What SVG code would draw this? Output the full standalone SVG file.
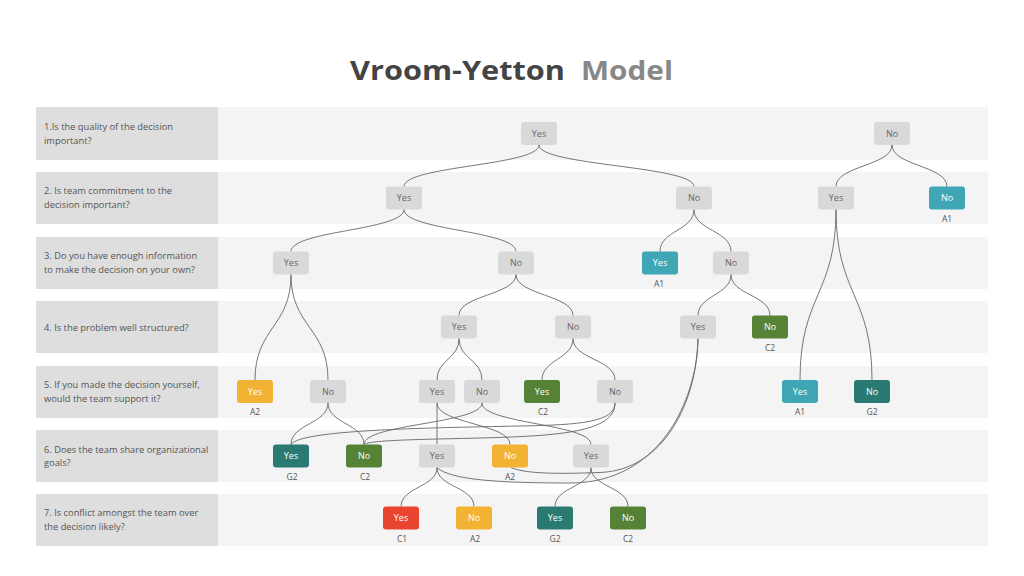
<svg xmlns="http://www.w3.org/2000/svg" width="1024" height="576" viewBox="0 0 1024 576">
<style>
.lab{fill:#dedede}
.band{fill:#f4f4f4}
.q{font-family:"Open Sans","Liberation Sans",sans-serif;font-size:9.3px;fill:#555}
.t{font-family:"Open Sans","Liberation Sans",sans-serif;font-size:9px;text-anchor:middle}
.g rect{fill:#d9d9d9}
.g text{fill:#666}
.c text.t{fill:#fff}
.teal rect{fill:#3fa6b6}
.dteal rect{fill:#2b7a72}
.green rect{fill:#558235}
.orange rect{fill:#f2b233}
.red rect{fill:#e8442f}
text.sub{font-family:"Open Sans","Liberation Sans",sans-serif;font-size:8.5px;fill:#555;text-anchor:middle}
#connectors path{fill:none;stroke:#666;stroke-width:0.9}
.title{font-family:"Open Sans","Liberation Sans",sans-serif;font-weight:bold;font-size:27px}
</style>
<rect width="1024" height="576" fill="#fff"/>
<g id="title">
<text class="title" x="350" y="80" fill="#444" textLength="215" lengthAdjust="spacingAndGlyphs">Vroom-Yetton</text>
<text class="title" x="581" y="80" fill="#888" textLength="92" lengthAdjust="spacingAndGlyphs">Model</text>
</g>
<g id="rows">
<rect class="lab" x="36" y="107" width="182" height="53"/><rect class="band" x="218" y="107" width="770" height="53"/>
<rect class="lab" x="36" y="172" width="182" height="52"/><rect class="band" x="218" y="172" width="770" height="52"/>
<rect class="lab" x="36" y="237" width="182" height="52"/><rect class="band" x="218" y="237" width="770" height="52"/>
<rect class="lab" x="36" y="301" width="182" height="52"/><rect class="band" x="218" y="301" width="770" height="52"/>
<rect class="lab" x="36" y="366" width="182" height="52"/><rect class="band" x="218" y="366" width="770" height="52"/>
<rect class="lab" x="36" y="430" width="182" height="52"/><rect class="band" x="218" y="430" width="770" height="52"/>
<rect class="lab" x="36" y="494" width="182" height="52"/><rect class="band" x="218" y="494" width="770" height="52"/>
<text class="q" x="44" y="130"><tspan x="44">1.Is the quality of the decision</tspan><tspan x="44" dy="13.5">important?</tspan></text>
<text class="q" x="44" y="194.3"><tspan x="44">2. Is team commitment to the</tspan><tspan x="44" dy="13.5">decision important?</tspan></text>
<text class="q" x="44" y="259.3"><tspan x="44">3. Do you have enough information</tspan><tspan x="44" dy="13.5">to make the decision on your own?</tspan></text>
<text class="q" x="44" y="330.5">4. Is the problem well structured?</text>
<text class="q" x="44" y="388.3"><tspan x="44">5. If you made the decision yourself,</tspan><tspan x="44" dy="13.5">would the team support it?</tspan></text>
<text class="q" x="44" y="452.8"><tspan x="44">6. Does the team share organizational</tspan><tspan x="44" dy="13.5">goals?</tspan></text>
<text class="q" x="44" y="516.3"><tspan x="44">7. Is conflict amongst the team over</tspan><tspan x="44" dy="13.5">the decision likely?</tspan></text>
</g>
<g id="connectors">
<path d="M539 145C539 165.75 404 165.75 404 186.5"/>
<path d="M539 145C539 165.75 694 165.75 694 186.5"/>
<path d="M892 145C892 165.75 836 165.75 836 186.5"/>
<path d="M892 145C892 165.75 947 165.75 947 186.5"/>
<path d="M404 209.5C404 230.5 291 230.5 291 251.5"/>
<path d="M404 209.5C404 230.5 516 230.5 516 251.5"/>
<path d="M694 209.5C694 230.5 660 230.5 660 251.5"/>
<path d="M694 209.5C694 230.5 731 230.5 731 251.5"/>
<path d="M836 209.5C836 294.75 800 294.75 800 380"/>
<path d="M836 209.5C836 294.75 872 294.75 872 380"/>
<path d="M291 274.5C291 327.25 255 327.25 255 380"/>
<path d="M291 274.5C291 327.25 328 327.25 328 380"/>
<path d="M516 274.5C516 295 459 295 459 315.5"/>
<path d="M516 274.5C516 295 573 295 573 315.5"/>
<path d="M731 274.5C731 295 698 295 698 315.5"/>
<path d="M731 274.5C731 295 770 295 770 315.5"/>
<path d="M459 338.5C459 359.25 437 359.25 437 380"/>
<path d="M459 338.5C459 359.25 482 359.25 482 380"/>
<path d="M573 338.5C573 359.25 542 359.25 542 380"/>
<path d="M573 338.5C573 359.25 615 359.25 615 380"/>
<path d="M328 403C328 423.75 291 423.75 291 444.5"/>
<path d="M328 403C328 423.75 364 423.75 364 444.5"/>
<path d="M437 403L437 444.5"/>
<path d="M437 403C437 423.75 510 423.75 510 444.5"/>
<path d="M482 403C482 423.75 364 423.75 364 444.5"/>
<path d="M482 403C482 423.75 591 423.75 591 444.5"/>
<path d="M615 403C615 422 580 425 520 426C420 428 300 430 291 444.5"/>
<path d="M615 403C615 432 560 436 480 438C420 439.5 370 440 364 444.5"/>
<path d="M437 467.5C437 487 401 487 401 506.5"/>
<path d="M437 467.5C437 487 474 487 474 506.5"/>
<path d="M591 467.5C591 487 555 487 555 506.5"/>
<path d="M591 467.5C591 487 628 487 628 506.5"/>
<path d="M698 338.5C697 400 660 483 570 483C500 483 450 480 437 467.5"/>
<path d="M698 338.5C697 400 665 470 600 472.5C560 474 525 474 511 467.5"/>
</g>
<g id="n1y" class="g"><rect x="521" y="122" width="36" height="23" rx="3"/><text class="t" x="539" y="136.7">Yes</text></g>
<g id="n1n" class="g"><rect x="874" y="122" width="36" height="23" rx="3"/><text class="t" x="892" y="136.7">No</text></g>
<g id="n2a" class="g"><rect x="386" y="186.5" width="36" height="23" rx="3"/><text class="t" x="404" y="201.2">Yes</text></g>
<g id="n2b" class="g"><rect x="676" y="186.5" width="36" height="23" rx="3"/><text class="t" x="694" y="201.2">No</text></g>
<g id="n2c" class="g"><rect x="818" y="186.5" width="36" height="23" rx="3"/><text class="t" x="836" y="201.2">Yes</text></g>
<g id="n2d" class="c teal"><rect x="929" y="186.5" width="36" height="23" rx="3"/><text class="t" x="947" y="201.2">No</text><text class="sub" x="947" y="221.5">A1</text></g>
<g id="n3a" class="g"><rect x="273" y="251.5" width="36" height="23" rx="3"/><text class="t" x="291" y="266.2">Yes</text></g>
<g id="n3b" class="g"><rect x="498" y="251.5" width="36" height="23" rx="3"/><text class="t" x="516" y="266.2">No</text></g>
<g id="n3c" class="c teal"><rect x="642" y="251.5" width="36" height="23" rx="3"/><text class="t" x="660" y="266.2">Yes</text><text class="sub" x="659" y="286.5">A1</text></g>
<g id="n3d" class="g"><rect x="713" y="251.5" width="36" height="23" rx="3"/><text class="t" x="731" y="266.2">No</text></g>
<g id="n4a" class="g"><rect x="441" y="315.5" width="36" height="23" rx="3"/><text class="t" x="459" y="330.2">Yes</text></g>
<g id="n4b" class="g"><rect x="555" y="315.5" width="36" height="23" rx="3"/><text class="t" x="573" y="330.2">No</text></g>
<g id="n4c" class="g"><rect x="680" y="315.5" width="36" height="23" rx="3"/><text class="t" x="698" y="330.2">Yes</text></g>
<g id="n4d" class="c green"><rect x="752" y="315.5" width="36" height="23" rx="3"/><text class="t" x="770" y="330.2">No</text><text class="sub" x="770" y="350.5">C2</text></g>
<g id="n5a" class="c orange"><rect x="237" y="380" width="36" height="23" rx="3"/><text class="t" x="255" y="394.7">Yes</text><text class="sub" x="255" y="415">A2</text></g>
<g id="n5b" class="g"><rect x="310" y="380" width="36" height="23" rx="3"/><text class="t" x="328" y="394.7">No</text></g>
<g id="n5c" class="g"><rect x="419" y="380" width="36" height="23" rx="3"/><text class="t" x="437" y="394.7">Yes</text></g>
<g id="n5d" class="g"><rect x="464" y="380" width="36" height="23" rx="3"/><text class="t" x="482" y="394.7">No</text></g>
<g id="n5e" class="c green"><rect x="524" y="380" width="36" height="23" rx="3"/><text class="t" x="542" y="394.7">Yes</text><text class="sub" x="543" y="415">C2</text></g>
<g id="n5f" class="g"><rect x="597" y="380" width="36" height="23" rx="3"/><text class="t" x="615" y="394.7">No</text></g>
<g id="n5g" class="c teal"><rect x="782" y="380" width="36" height="23" rx="3"/><text class="t" x="800" y="394.7">Yes</text><text class="sub" x="800" y="415">A1</text></g>
<g id="n5h" class="c dteal"><rect x="854" y="380" width="36" height="23" rx="3"/><text class="t" x="872" y="394.7">No</text><text class="sub" x="872" y="415">G2</text></g>
<g id="n6a" class="c dteal"><rect x="273" y="444.5" width="36" height="23" rx="3"/><text class="t" x="291" y="459.2">Yes</text><text class="sub" x="292" y="479.5">G2</text></g>
<g id="n6b" class="c green"><rect x="346" y="444.5" width="36" height="23" rx="3"/><text class="t" x="364" y="459.2">No</text><text class="sub" x="365" y="479.5">C2</text></g>
<g id="n6c" class="g"><rect x="419" y="444.5" width="36" height="23" rx="3"/><text class="t" x="437" y="459.2">Yes</text></g>
<g id="n6d" class="c orange"><rect x="492" y="444.5" width="36" height="23" rx="3"/><text class="t" x="510" y="459.2">No</text><text class="sub" x="510" y="479.5">A2</text></g>
<g id="n6e" class="g"><rect x="573" y="444.5" width="36" height="23" rx="3"/><text class="t" x="591" y="459.2">Yes</text></g>
<g id="n7a" class="c red"><rect x="383" y="506.5" width="36" height="23" rx="3"/><text class="t" x="401" y="521.2">Yes</text><text class="sub" x="402" y="541.5">C1</text></g>
<g id="n7b" class="c orange"><rect x="456" y="506.5" width="36" height="23" rx="3"/><text class="t" x="474" y="521.2">No</text><text class="sub" x="475" y="541.5">A2</text></g>
<g id="n7c" class="c dteal"><rect x="537" y="506.5" width="36" height="23" rx="3"/><text class="t" x="555" y="521.2">Yes</text><text class="sub" x="555" y="541.5">G2</text></g>
<g id="n7d" class="c green"><rect x="610" y="506.5" width="36" height="23" rx="3"/><text class="t" x="628" y="521.2">No</text><text class="sub" x="628" y="541.5">C2</text></g>
</svg>
